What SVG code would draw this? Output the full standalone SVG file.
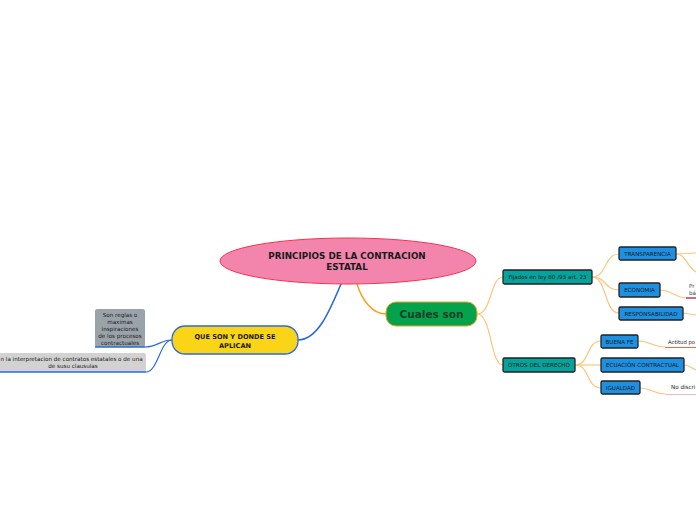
<svg xmlns="http://www.w3.org/2000/svg" width="696" height="520" viewBox="0 0 696 520">
<style>
text{font-family:"DejaVu Sans","Liberation Sans",sans-serif;fill:#1a1a1a}
.b{font-weight:bold}
.oc{fill:none;stroke:#fdc57b;stroke-width:1.2}
.bc{fill:none;stroke:#2a6ae0;stroke-width:1.2}
.teal{fill:#05a39b;stroke:#222;stroke-width:1.3}
.blue{fill:#1d90e2;stroke:#222;stroke-width:1.3}
.s{font-size:5.6px}
</style>
<rect width="696" height="520" fill="#fff"/>
<g id="connectors">
<path d="M357,284 C362,300 372,314 386,314" style="fill:none;stroke:#f7a21b;stroke-width:1.5"/>
<path class="bc" d="M341,284 C330,310 318,340 298,340" style="stroke-width:1.6"/>
<path class="oc" d="M477,314 C492,314 490,277 503,277"/>
<path class="oc" d="M477,314 C492,314 490,365 503,365"/>
<path class="oc" d="M592,277 C607,277 604,254 619,254"/>
<path class="oc" d="M592,277 C607,277 604,290 619,290"/>
<path class="oc" d="M592,277 C607,277 604,313 619,313"/>
<path class="oc" d="M575,365 C590,365 586,341 601,341"/>
<path class="oc" d="M575,365 L601,365"/>
<path class="oc" d="M575,365 C590,365 586,388 601,388"/>
<path class="oc" d="M676,254 L696,253"/>
<path class="oc" d="M676,254 C686,254 686,266 696,272"/>
<path class="oc" d="M660,290 C672,290 675,298 687,298"/>
<path class="oc" d="M683,313 L696,315"/>
<path class="oc" d="M638,341 C650,341 653,347 665,347"/>
<path class="oc" d="M684,365 C690,365 692,369 696,370"/>
<path class="oc" d="M640,388 C652,388 653,394 665,394"/>
<path class="bc" d="M172,340 C160,340 158,347 145,347"/>
<path class="bc" d="M172,340 C160,340 158,372 146,372"/>
</g>
<g id="root">
<ellipse cx="348" cy="261" rx="128" ry="23" fill="#f385ad" stroke="#f6334f" stroke-width="1"/>
<text class="b" x="347" y="259" font-size="8.8" text-anchor="middle">PRINCIPIOS DE LA CONTRACION</text>
<text class="b" x="347" y="270" font-size="8.8" text-anchor="middle">ESTATAL</text>
</g>
<g id="cuales">
<rect x="386" y="302" width="91" height="24" rx="10" fill="#05a24c" stroke="#f0a320" stroke-width="1"/>
<text class="b" x="431.5" y="318" font-size="10.5" text-anchor="middle" style="fill:#17402a">Cuales son</text>
</g>
<g id="queson">
<rect x="172" y="326" width="126" height="28" rx="13" fill="#f9d417" stroke="#2a6ae0" stroke-width="1.3"/>
<text class="b" x="235" y="339" font-size="6.6" text-anchor="middle">QUE SON Y DONDE SE</text>
<text class="b" x="235" y="348" font-size="6.6" text-anchor="middle">APLICAN</text>
</g>
<g id="reglas">
<rect x="95" y="309" width="50" height="38" rx="2" fill="#9aa2aa"/>
<line x1="95" y1="347" x2="145" y2="347" stroke="#2a6ae0" stroke-width="1.3"/>
<text class="s" x="120" y="317" text-anchor="middle">Son reglas o</text>
<text class="s" x="120" y="324" text-anchor="middle">maximas</text>
<text class="s" x="120" y="331" text-anchor="middle">inspiraciones</text>
<text class="s" x="120" y="338" text-anchor="middle">de los procesos</text>
<text class="s" x="120" y="345" text-anchor="middle">contractuales</text>
</g>
<g id="aplican">
<rect x="-10" y="353" width="156" height="19" rx="2" fill="#d2d2d2"/>
<line x1="0" y1="372" x2="146" y2="372" stroke="#2a6ae0" stroke-width="1.3"/>
<text class="s" x="0.5" y="361">n la interpretacion de contratos estatales o de una</text>
<text class="s" x="73" y="368" text-anchor="middle">de susu clausulas</text>
</g>
<g id="fijados">
<rect class="teal" x="503" y="270" width="89" height="14" rx="1.5"/>
<text class="s" x="547.5" y="279" text-anchor="middle">Fijados en ley 80 /93 art. 23</text>
</g>
<g id="otros">
<rect class="teal" x="503" y="358" width="72" height="14" rx="1.5"/>
<text class="s" x="539" y="367" text-anchor="middle">OTROS DEL DERECHO</text>
</g>
<g id="transparencia">
<rect class="blue" x="619" y="247" width="57" height="13" rx="1.5"/>
<text class="s" x="647.5" y="256" text-anchor="middle">TRANSPARENCIA</text>
</g>
<g id="economia">
<rect class="blue" x="619" y="283" width="41" height="14" rx="1.5"/>
<text class="s" x="639.5" y="292" text-anchor="middle">ECONOMIA</text>
</g>
<g id="economia-det">
<text class="s" x="689" y="288" style="fill:#444">Pr</text>
<text class="s" x="689" y="295" style="fill:#444">bá</text>
<line x1="686" y1="298" x2="696" y2="298" stroke="#cc3355" stroke-width="1.5"/>
</g>
<g id="responsabilidad">
<rect class="blue" x="619" y="307" width="64" height="13" rx="1.5"/>
<text class="s" x="651" y="316" text-anchor="middle">RESPONSABILIDAD</text>
</g>
<g id="buenafe">
<rect class="blue" x="601" y="335" width="37" height="13" rx="1.5"/>
<text class="s" x="619.5" y="344" text-anchor="middle">BUENA FE</text>
</g>
<g id="buenafe-det">
<text x="668" y="344" font-size="5.3">Actitud po</text>
<line x1="665" y1="347.5" x2="696" y2="347.5" stroke="#ee6644" stroke-width="1"/>
</g>
<g id="ecuacion">
<rect class="blue" x="601" y="358" width="83" height="14" rx="1.5"/>
<text class="s" x="642.5" y="367" text-anchor="middle">ECUACIÓN CONTRACTUAL</text>
</g>
<g id="igualdad">
<rect class="blue" x="601" y="381" width="39" height="13" rx="1.5"/>
<text class="s" x="620.5" y="390" text-anchor="middle">IGUALDAD</text>
</g>
<g id="igualdad-det">
<text class="s" x="671" y="389">No discri</text>
<line x1="665" y1="394.5" x2="696" y2="394.5" stroke="#f7b9c9" stroke-width="1"/>
</g>
</svg>
